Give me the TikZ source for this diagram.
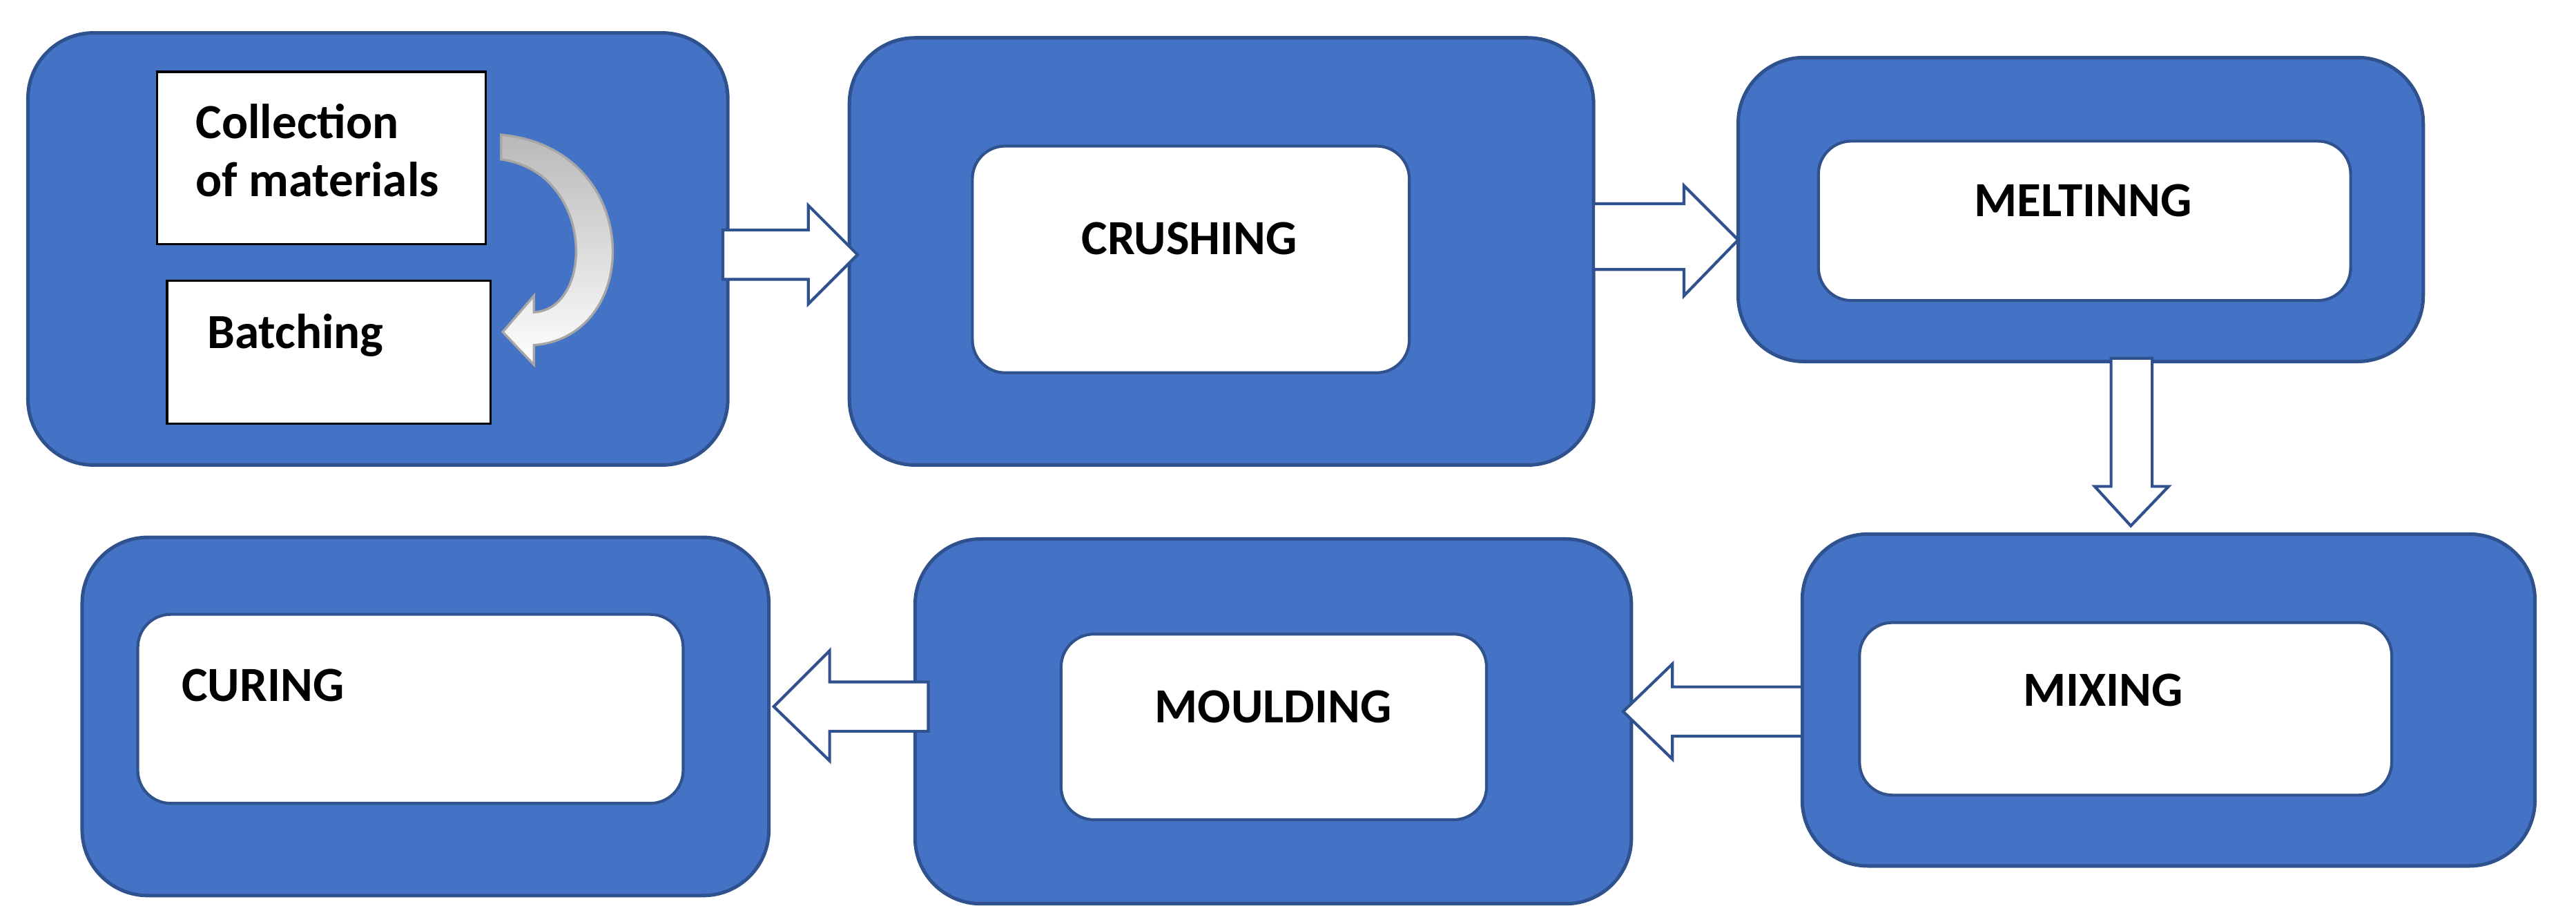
\documentclass[tikz,border=0pt]{standalone}
\usepackage{fontspec}
\setmainfont{Carlito}
\begin{document}
\begin{tikzpicture}[x=0.02cm,y=-0.02cm,
  outer/.style={draw=blue!40!black!70!cyan,fill=blue!55!cyan!60!black!90,line width=1.2pt,rounded corners=0.8cm},
  innr/.style={draw=blue!50!black,fill=white,line width=1pt,rounded corners=0.4cm},
  lab/.style={font=\fontsize{17}{20}\selectfont\bfseries},
  barrow/.style={draw=blue!50!black!80,fill=white,line width=1pt}]
\definecolor{bb}{HTML}{4472C4}\definecolor{bd}{HTML}{2F528F}
\tikzset{outer/.append style={fill=bb,draw=bd},innr/.append style={draw=bd},barrow/.append style={draw=bd}}
\useasboundingbox (0,0) rectangle (1568,562);
% box 1
\draw[outer] (17,20) rectangle (443,283);
\node[draw=black,fill=white,line width=0.8pt,minimum width=4cm,minimum height=2.1cm,anchor=north west,inner sep=0pt] (col) at (95,43) {};
\node[lab,anchor=north west,align=left] (colt) at (113,57) {Collection\\of materials};
\node[draw=black,fill=white,line width=0.8pt,minimum width=3.94cm,minimum height=1.74cm,anchor=north west,inner sep=0pt] (bat) at (101,170) {};
\node[lab,anchor=north west] (batt) at (120,185) {Batching};
\draw[gray!70,line width=0.8pt,left color=gray!55,right color=white,shading angle=0]
 (305,82) .. controls (392,90) and (392,205) .. (325,210) -- (325,222) -- (306,202) -- (325,180) -- (325,190)
 .. controls (362,188) and (362,105) .. (305,97) -- cycle;
% box 2
\draw[outer] (517,23) rectangle (970,283);
\node[innr,minimum width=5.32cm,minimum height=2.76cm,anchor=north west] (crb) at (591,88) {};
\node[lab] (cr) at (724,145) {CRUSHING};
% box 3
\draw[outer] (1058,35) rectangle (1475,220);
\node[innr,minimum width=6.48cm,minimum height=1.94cm,anchor=north west] (meb) at (1106,85) {};
\node[lab] (me) at (1268,122) {MELTINNG};
% box 4
\draw[outer] (1097,325) rectangle (1543,527);
\node[innr,minimum width=6.48cm,minimum height=2.1cm,anchor=north west] (mib) at (1131,378) {};
\node[lab] (mi) at (1280,420) {MIXING};
% box 5
\draw[outer] (557,328) rectangle (993,550);
\node[innr,minimum width=5.18cm,minimum height=2.26cm,anchor=north west] (mob) at (645,385) {};
\node[lab] (mo) at (775,430) {MOULDING};
% box 6
\draw[outer] (50,327) rectangle (468,545);
\node[innr,minimum width=6.64cm,minimum height=2.3cm,anchor=north west] (cub) at (83,373) {};
\node[lab] (cu) at (160,417) {CURING};
% block arrows
\draw[barrow] (440,140) -- (492,140) -- (492,125) -- (522,155) -- (492,185) -- (492,170) -- (440,170) -- cycle;
\draw[barrow] (970,124) -- (1025,124) -- (1025,113) -- (1058,146) -- (1025,180) -- (1025,164) -- (970,164) -- cycle;
\draw[barrow] (1285,218) -- (1310,218) -- (1310,296) -- (1320,296) -- (1297,320) -- (1275,296) -- (1285,296) -- cycle;
\draw[barrow] (1097,418) -- (1018,418) -- (1018,404) -- (988,433) -- (1018,462) -- (1018,448) -- (1097,448) -- cycle;
\draw[barrow] (565,415) -- (505,415) -- (505,396) -- (471,430) -- (505,463) -- (505,445) -- (565,445) -- cycle;
\end{tikzpicture}
\end{document}
